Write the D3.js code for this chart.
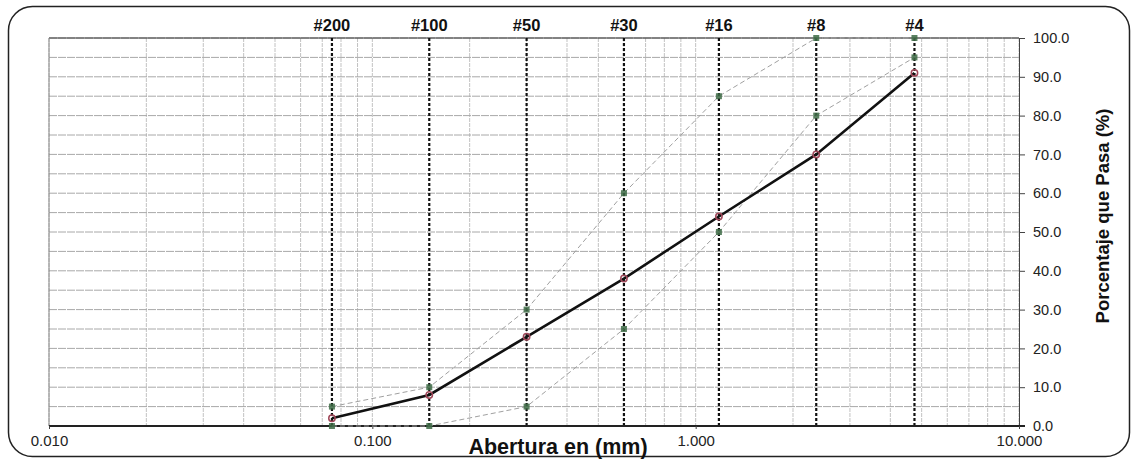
<!DOCTYPE html>
<html><head><meta charset="utf-8">
<script src="https://cdn.jsdelivr.net/npm/d3@7"></script>
<style>body{margin:0;background:#fff}svg{display:block}text{font-family:"Liberation Sans",Arial,sans-serif}</style>
</head><body><svg id="c" width="1137" height="459"></svg>
<script>
const sieves = ["#200","#100","#50","#30","#16","#8","#4"];
const openings = [0.075,0.15,0.3,0.6,1.18,2.36,4.75];
const passing = [2,8,23,38,54,70,91];
const upperLimit = [5,10,30,60,85,100,100];
const lowerLimit = [0,0,5,25,50,80,95];
const xTickLabels = ["0.010","0.100","1.000","10.000"];
const yTicks = [0,10,20,30,40,50,60,70,80,90,100];

const svg = d3.select("#c");
const L=49,R=1019,T=38,B=426;
const x = d3.scaleLog().domain([0.01,10]).range([L,R]);
const y = d3.scaleLinear().domain([0,100]).range([B,T]);

// frame
svg.append("rect").attr("x",8.5).attr("y",6.5).attr("width",1121).attr("height",450).attr("rx",24)
  .attr("fill","none").attr("stroke","#222").attr("stroke-width",1.5);

// minor grid
const minorX=[];
for(let d=0.01; d<10; d*=10){ for(let k=1;k<=9;k++) minorX.push(d*k); }
minorX.push(10);
svg.append("g").selectAll("line").data(minorX).join("line")
  .attr("x1",d=>x(d)).attr("x2",d=>x(d)).attr("y1",T).attr("y2",B)
  .attr("stroke","#c2c2c2").attr("stroke-width",1).attr("stroke-dasharray","4,1");
svg.append("g").selectAll("line").data(d3.range(0,101,5)).join("line")
  .attr("x1",L).attr("x2",R).attr("y1",d=>y(d)).attr("y2",d=>y(d))
  .attr("stroke","#a8a8a8").attr("stroke-width",1).attr("stroke-dasharray","8,1");

// plot border
svg.append("line").attr("x1",L).attr("x2",R).attr("y1",T).attr("y2",T).attr("stroke","#333").attr("stroke-width",1.2);
svg.append("line").attr("x1",L).attr("x2",L).attr("y1",T).attr("y2",B).attr("stroke","#888").attr("stroke-width",1);

// sieve lines
const sg = svg.append("g");
sg.selectAll("line").data(openings).join("line")
  .attr("x1",d=>x(d)).attr("x2",d=>x(d)).attr("y1",T).attr("y2",B)
  .attr("stroke","#111").attr("stroke-width",2.2).attr("stroke-dasharray","3,2");
sg.selectAll("text").data(sieves).join("text")
  .attr("x",(d,i)=>x(openings[i])).attr("y",31).attr("text-anchor","middle")
  .attr("font-size",16.5).attr("font-weight","bold").attr("fill","#111").text(d=>d);

// axes
const yAxis = d3.axisRight(y).tickValues(yTicks).tickFormat(d3.format(".1f")).tickSize(6).tickPadding(8);
const ya = svg.append("g").attr("transform",`translate(${R},0)`).call(yAxis);
ya.select(".domain").attr("stroke","#444");
ya.selectAll("text").attr("font-size",14.5).attr("fill","#222");
ya.selectAll("line").attr("stroke","#444");

svg.append("line").attr("x1",L).attr("x2",R+6).attr("y1",B).attr("y2",B).attr("stroke","#222").attr("stroke-width",2);
const xAxis = d3.axisBottom(x).tickValues([0.01,0.1,1,10]).tickFormat((d,i)=>xTickLabels[i]).tickSize(3).tickPadding(6);
const xa = svg.append("g").attr("transform",`translate(0,${B})`).call(xAxis);
xa.select(".domain").remove();
xa.selectAll("line").attr("stroke","#444");
xa.selectAll("text").attr("font-size",15).attr("fill","#222");

svg.append("text").attr("x",558).attr("y",454).attr("text-anchor","middle").attr("font-size",21.5)
  .attr("font-weight","bold").attr("fill","#111").text("Abertura en (mm)");
svg.append("text").attr("transform","translate(1109,216) rotate(-90)").attr("text-anchor","middle")
  .attr("font-size",18.5).attr("font-weight","bold").attr("fill","#111").text("Porcentaje que Pasa (%)");

// series
const line = d3.line().x(d=>x(d[0])).y(d=>y(d[1]));
function series(vals){ return openings.map((o,i)=>[o,vals[i]]); }
[upperLimit,lowerLimit].forEach(v=>{
  svg.append("path").datum(series(v)).attr("d",line).attr("fill","none")
    .attr("stroke","#a0a0a0").attr("stroke-width",1).attr("stroke-dasharray","5,3");
  svg.append("g").selectAll("rect").data(series(v)).join("rect")
    .attr("x",d=>x(d[0])-3).attr("y",d=>y(d[1])-3).attr("width",6).attr("height",6)
    .attr("fill","#3d6b45").attr("opacity",0.85);
});
svg.append("path").datum(series(passing)).attr("d",line).attr("fill","none")
  .attr("stroke","#111").attr("stroke-width",2.6);
svg.append("g").selectAll("circle").data(series(passing)).join("circle")
  .attr("cx",d=>x(d[0])).attr("cy",d=>y(d[1])).attr("r",3.2)
  .attr("fill","none").attr("stroke","#a0485a").attr("stroke-width",1.5);
</script></body></html>
